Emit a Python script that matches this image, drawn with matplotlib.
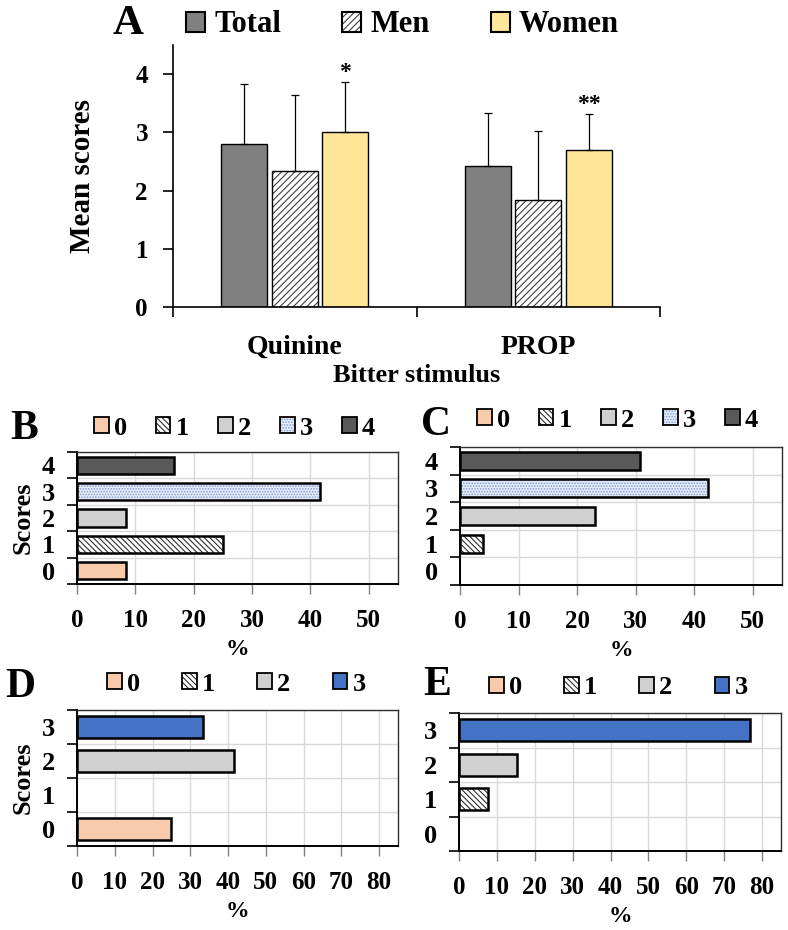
import matplotlib
matplotlib.use('Agg')
import matplotlib.pyplot as plt
import numpy as np
from matplotlib.patches import Patch
from matplotlib.legend_handler import HandlerTuple

plt.rcParams['font.family'] = ['Liberation Serif', 'DejaVu Serif']
plt.rcParams['font.weight'] = 'bold'
plt.rcParams['axes.labelweight'] = 'bold'
plt.rcParams['hatch.linewidth'] = 0.8

# --- panel A: mean scores by stimulus ---
stimuli = ['Quinine', 'PROP']
groups = ['Total', 'Men', 'Women']
mean_total = [2.80, 2.42]
mean_men = [2.33, 1.84]
mean_women = [3.00, 2.70]
sd_total = [1.03, 0.92]
sd_men = [1.31, 1.19]
sd_women = [0.86, 0.61]
signif = ['*', '**']

# --- panels B-E: score distributions (%) ---
scores_bc = [0, 1, 2, 3, 4]
scores_de = [0, 1, 2, 3]
pct_b = [8.33, 25.0, 8.33, 41.67, 16.67]
pct_c = [0, 3.85, 23.08, 42.31, 30.77]
pct_d = [25.0, 0, 41.67, 33.33]
pct_e = [0, 7.69, 15.38, 76.92]

# face, hatch, hatch colour
style_bc = {0: ('#f8cbad', None, None),
            1: ('white', '\\\\\\\\\\\\', '#303030'),
            2: ('#d0d0d0', None, None),
            3: ('#e6ecf7', '......', '#7f9ed8'),
            4: ('#595959', None, None)}
style_de = {0: ('#f8cbad', None, None),
            1: ('white', '\\\\\\\\\\\\', '#303030'),
            2: ('#d0d0d0', None, None),
            3: ('#4472c4', None, None)}

W, H = 788, 930
fig = plt.figure(figsize=(W / 100, H / 100), dpi=100)


def rect(l, t, r, b):
    return [l / W, 1 - b / H, (r - l) / W, (b - t) / H]


def handle(face, hatch, hcol, lw=1.5):
    if hatch:
        return (Patch(facecolor=face, edgecolor=hcol, lw=0, hatch=hatch),
                Patch(fill=False, edgecolor='black', lw=lw))
    return Patch(facecolor=face, edgecolor='black', lw=lw)


# ---------------- A ----------------
axA = fig.add_axes(rect(173, 45, 660, 307))
x = np.arange(len(stimuli))
bw, off = 0.19, 0.207
gray_men = '#404040'
axA.bar(x - off, mean_total, bw, color='#808080', edgecolor='black', lw=1)
axA.bar(x, mean_men, bw, color='white', edgecolor=gray_men, lw=0, hatch='/////')
axA.bar(x, mean_men, bw, fill=False, edgecolor='black', lw=1)
axA.bar(x + off, mean_women, bw, color='#ffe699', edgecolor='black', lw=1)
z = np.zeros(len(stimuli))
for xs, m, s in [(x - off, mean_total, sd_total), (x, mean_men, sd_men),
                 (x + off, mean_women, sd_women)]:
    axA.errorbar(xs, m, yerr=[z, s], fmt='none', ecolor='black',
                 elinewidth=0.9, capsize=3, capthick=0.9)
for i, t in enumerate(signif):
    axA.text(x[i] + off, mean_women[i] + sd_women[i] - 0.02, t,
             ha='center', va='bottom', fontsize=17)
axA.set_xlim(-0.5, 1.5)
axA.set_ylim(0, 4.5)
axA.set_yticks([0, 1, 2, 3, 4])
axA.set_xticks(x)
axA.set_xticklabels(stimuli, fontsize=20)
axA.set_xticks([-0.5, 0.5, 1.5], minor=True)
axA.tick_params(axis='x', which='major', length=0, pad=20)
axA.tick_params(axis='x', which='minor', length=7, width=1.2)
axA.tick_params(axis='y', length=7, width=1.2, pad=11, labelsize=18)
for sp in ['top', 'right']:
    axA.spines[sp].set_visible(False)
for sp in ['left', 'bottom']:
    axA.spines[sp].set_linewidth(1.2)
axA.set_ylabel('Mean scores', fontsize=21, labelpad=28)
axA.set_xlabel('Bitter stimulus', fontsize=19, labelpad=3)

fig.text(128 / W, 1 - 24 / H, 'A', fontsize=31, ha='center', va='center')
hA = [handle('#808080', None, None), handle('white', '/////', gray_men),
      handle('#ffe699', None, None)]
fig.legend(hA, groups, loc='center left', bbox_to_anchor=(186 / W, 1 - 25 / H),
           ncol=3, frameon=False, fontsize=22, borderpad=0, borderaxespad=0,
           handlelength=0.62, handleheight=0.62, handletextpad=0.3,
           columnspacing=2.0, handler_map={tuple: HandlerTuple(ndivide=1)})


# ---------------- B-E ----------------
def score_panel(box, scores, vals, style, xmax, ylabel, letter, lpos, legpos, colsp):
    ax = fig.add_axes(rect(*box))
    for s, v in zip(scores, vals):
        if v == 0:
            continue
        face, hatch, hcol = style[s]
        if hatch:
            ax.barh(s, v, 0.65, color=face, edgecolor=hcol, lw=0, hatch=hatch, zorder=2)
            ax.barh(s, v, 0.65, fill=False, edgecolor='black', lw=1.8, zorder=3)
        else:
            ax.barh(s, v, 0.65, color=face, edgecolor='black', lw=1.8, zorder=3)
    n = len(scores)
    ax.set_ylim(-0.5, n - 0.5)
    ax.set_xlim(0, xmax)
    ax.set_yticks(scores)
    ax.set_yticks(np.arange(-0.5, n), minor=True)
    ax.set_xticks(np.arange(0, xmax, 10))
    ax.tick_params(axis='y', which='major', length=0, pad=16, labelsize=19)
    ax.tick_params(axis='y', which='minor', length=7, width=1.2)
    ax.tick_params(axis='x', length=7, width=1, color='#808080', pad=11, labelsize=18)
    ax.grid(axis='x', which='major', color='#d9d9d9', lw=1, zorder=0)
    ax.grid(axis='y', which='minor', color='#d9d9d9', lw=1, zorder=0)
    ax.set_axisbelow(True)
    for sp in ['left', 'bottom']:
        ax.spines[sp].set_linewidth(1.4)
    for sp in ['top', 'right']:
        ax.spines[sp].set_linewidth(1.0)
        ax.spines[sp].set_color('#303030')
    ax.set_xlabel('%', fontsize=17, labelpad=5)
    if ylabel:
        ax.set_ylabel('Scores', fontsize=19, labelpad=5)
    fig.text(lpos[0] / W, 1 - lpos[1] / H, letter, fontsize=30, ha='center', va='center')
    hs = [handle(*style[s], lw=1.3) for s in scores]
    fig.legend(hs, [str(s) for s in scores], loc='center left',
               bbox_to_anchor=(legpos[0] / W, 1 - legpos[1] / H),
               ncol=n, frameon=False, fontsize=19, borderpad=0, borderaxespad=0,
               handlelength=0.55, handleheight=0.55, handletextpad=0.2,
               columnspacing=colsp, handler_map={tuple: HandlerTuple(ndivide=1)})
    return ax


score_panel((77, 452, 398, 584), scores_bc, pct_b, style_bc, 55, True,
            'B', (24, 429), (94, 428), 1.1)
score_panel((460, 447, 782, 585), scores_bc, pct_c, style_bc, 55, False,
            'C', (436, 425), (477, 420), 1.1)
score_panel((77, 710, 398, 846), scores_de, pct_d, style_de, 85, True,
            'D', (20, 687), (107, 684), 1.6)
score_panel((459, 713, 781, 851), scores_de, pct_e, style_de, 85, False,
            'E', (437, 685), (489, 688), 1.6)

fig.savefig('out.png', dpi=100)
